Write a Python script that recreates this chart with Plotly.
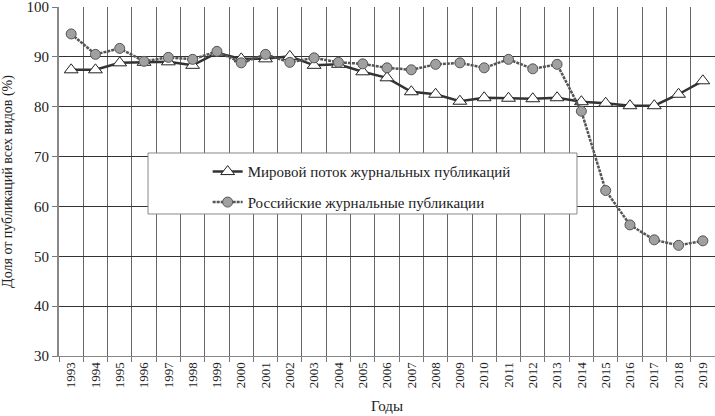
import plotly.graph_objects as go

years = [str(y) for y in range(1993, 2020)]
world = [87.4, 87.4, 88.8, 88.9, 89.0, 88.3, 90.8, 89.6, 89.6, 90.1, 88.3, 88.5, 87.0, 85.8,
         83.0, 82.5, 81.1, 81.8, 81.7, 81.6, 81.8, 81.0, 80.7, 80.2, 80.2, 82.5, 85.2]
russia = [94.6, 90.5, 91.7, 89.1, 89.9, 89.5, 91.1, 88.8, 90.5, 88.9, 89.8, 88.9, 88.6, 87.8,
          87.4, 88.5, 88.8, 87.8, 89.5, 87.6, 88.5, 79.1, 63.2, 56.3, 53.3, 52.2, 53.1]
name_world = "Мировой поток журнальных публикаций"
name_russia = "Российские журнальные публикации"
y_ticks = [30, 40, 50, 60, 70, 80, 90, 100]

FONT = "Liberation Serif, Times New Roman, DejaVu Serif, serif"

fig = go.Figure()
fig.add_trace(go.Scatter(
    x=years, y=world, name=name_world, mode="lines+markers", legendgroup="a",
    line=dict(color="#333333", width=2.5),
    marker=dict(symbol="triangle-up", size=12, color="white", line=dict(color="#222222", width=1)),
))
fig.add_trace(go.Scatter(
    x=years, y=russia, name=name_russia, mode="lines+markers", legendgroup="b",
    line=dict(color="#555555", width=2.5, dash="3px,1px"),
    marker=dict(symbol="circle", size=10, color="#a0a0a0", line=dict(color="#555555", width=1)),
))

# legend frame
fig.add_shape(type="rect", xref="paper", yref="paper",
              x0=0.1357, x1=0.7896, y0=0.4069, y1=0.5817,
              fillcolor="white", line=dict(color="#888888", width=1), layer="above")

fig.update_layout(
    width=715, height=416,
    margin=dict(l=59, r=0, t=7, b=60),
    paper_bgcolor="white", plot_bgcolor="white",
    font=dict(family=FONT, color="#222222", size=14),
    showlegend=True,
    legend=dict(x=0.2266, y=0.575, xanchor="left", yanchor="top",
                bgcolor="rgba(0,0,0,0)", borderwidth=0,
                font=dict(family=FONT, size=15, color="#222222"),
                traceorder="grouped", tracegroupgap=8),
    xaxis=dict(type="category", tickson="boundaries", showgrid=True, gridcolor="#666666", gridwidth=1,
               ticks="outside", ticklen=5, tickcolor="#777777", tickangle=-90,
               tickfont=dict(family=FONT, size=13),
               showline=True, linecolor="#888888", linewidth=1,
               title=dict(text="Годы", font=dict(family=FONT, size=15), standoff=13),
               automargin=False, range=[-0.5, 26.5]),
    yaxis=dict(range=[30, 100], tickvals=y_ticks, showgrid=True, gridcolor="#333333", gridwidth=1,
               ticks="outside", ticklen=5, tickcolor="#777777",
               tickfont=dict(family=FONT, size=15), ticklabeloverflow="allow",
               showline=True, linecolor="#888888", linewidth=2, zeroline=False,
               title=dict(text="Доля от публикаций всех видов (%)", font=dict(family=FONT, size=14), standoff=14),
               automargin=False),
)

fig.write_html("out.html", config={"displayModeBar": False},
               post_script="document.body.style.margin='0';document.body.style.padding='0';")
